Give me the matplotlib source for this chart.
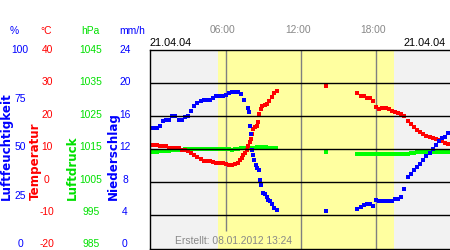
import numpy as np
import matplotlib
matplotlib.use("Agg")
import matplotlib.pyplot as plt

plt.rcParams['font.family'] = ['Liberation Sans', 'DejaVu Sans']

# ---------------- data (hours of day; native units) ----------------
# night / morning segment
t_pres_a = [0.00, 0.25, 0.50, 0.75, 1.00, 1.25, 1.50, 1.75, 2.00, 2.25, 2.50, 2.75,
            3.00, 3.25, 3.50, 3.75, 4.00, 4.25, 4.50, 4.75, 5.00, 5.25, 5.50, 5.75,
            6.00, 6.25, 6.50, 6.75, 7.00, 7.25, 7.50, 7.75, 8.00, 8.25, 8.50, 8.75,
            9.00, 9.25, 9.50, 9.75, 10.00]
pres_a = [1014.2, 1014.2, 1014.2, 1014.5, 1014.5, 1014.5, 1014.6, 1014.7, 1014.7, 1014.7, 1014.9, 1015.0,
          1015.0, 1015.0, 1015.0, 1015.0, 1015.0, 1015.0, 1015.0, 1015.0, 1015.0, 1015.0, 1015.0, 1015.0,
          1015.0, 1015.0, 1014.9, 1015.2, 1015.2, 1015.3, 1015.4, 1015.4, 1015.4, 1015.4, 1015.6, 1015.7,
          1015.7, 1015.7, 1015.4, 1015.4, 1015.4]

t_hum_a = [0.00, 0.25, 0.50, 0.75, 1.00, 1.25, 1.50, 1.75, 2.00, 2.25, 2.50, 2.75,
           3.00, 3.25, 3.50, 3.75, 4.00, 4.25, 4.50, 4.75, 5.00, 5.25, 5.50, 5.75,
           6.00, 6.25, 6.50, 6.75, 7.00, 7.25, 7.50, 7.75, 7.86, 7.96, 8.02, 8.10,
           8.18, 8.28, 8.41, 8.52, 8.68, 8.76, 8.84, 8.95, 9.13, 9.27, 9.39, 9.53,
           9.67, 9.87, 10.06]
hum_a = [60.6, 60.6, 60.6, 61.6, 64.0, 64.5, 64.5, 66.7, 66.7, 64.6, 64.6, 66.3,
         67.0, 69.5, 72.0, 73.4, 74.4, 74.7, 74.7, 74.7, 75.6, 76.9, 76.9, 76.9,
         77.5, 78.1, 78.6, 78.6, 78.6, 77.6, 74.8, 70.8, 68.7, 61.6, 57.6, 49.5,
         47.0, 44.4, 42.3, 40.6, 39.4, 34.3, 32.2, 28.1, 27.6, 25.9, 24.6, 23.9,
         22.6, 20.4, 19.2]

t_temp_a = [0.00, 0.25, 0.50, 0.75, 1.00, 1.25, 1.50, 1.75, 2.00, 2.25, 2.50, 2.75,
            3.00, 3.25, 3.50, 3.75, 4.00, 4.25, 4.50, 4.75, 5.00, 5.25, 5.50, 5.75,
            6.00, 6.25, 6.50, 6.75, 7.00, 7.14, 7.27, 7.40, 7.54, 7.67, 7.80, 7.94,
            8.02, 8.07, 8.20, 8.33, 8.47, 8.55, 8.68, 8.79, 8.92, 9.13, 9.27, 9.45,
            9.67, 9.87, 10.11]
temp_a = [11.4, 11.4, 11.4, 11.1, 11.0, 11.0, 10.5, 10.4, 10.4, 10.4, 9.9, 9.7,
          9.6, 8.8, 8.4, 7.6, 7.1, 6.5, 6.5, 6.3, 6.2, 5.8, 5.7, 5.7,
          5.5, 5.2, 5.2, 5.6, 5.8, 6.7, 7.5, 8.2, 8.9, 9.7, 10.9, 12.2,
          13.2, 14.5, 16.0, 16.6, 17.0, 18.3, 20.8, 22.3, 23.0, 23.3, 23.8, 24.6,
          25.7, 26.9, 27.6]

# isolated reading around 14:00
t_b = [14.0]
hum_b = [19.0]
temp_b = [29.0]
pres_b = [1014.3]

# evening segment
t_c = [16.50, 16.75, 17.00, 17.25, 17.50, 17.75, 18.00, 18.25, 18.50, 18.75,
       19.00, 19.25, 19.50, 19.75, 20.00, 20.25, 20.50, 20.75, 21.00, 21.25,
       21.50, 21.75, 22.00, 22.25, 22.50, 22.75, 23.00, 23.25, 23.50, 23.75]
hum_c = [20.0, 21.0, 21.7, 22.6, 22.6, 21.4, 24.5, 24.0, 23.9, 23.9,
         23.9, 24.0, 25.1, 25.1, 25.8, 30.0, 35.8, 37.6, 39.3, 41.0,
         42.8, 44.4, 46.4, 48.1, 49.9, 52.2, 54.0, 55.5, 56.4, 58.4]
temp_c = [26.9, 26.2, 26.0, 25.5, 25.5, 24.5, 22.8, 22.3, 22.4, 22.6,
          22.2, 21.7, 21.3, 21.1, 20.8, 20.0, 18.5, 17.6, 16.7, 15.9,
          15.1, 14.6, 14.1, 13.7, 13.4, 13.2, 12.8, 12.4, 12.0, 11.7]
pres_c = [1013.7, 1013.5, 1013.5, 1013.5, 1013.5, 1013.5, 1013.5, 1013.5, 1013.5, 1013.5,
          1013.5, 1013.5, 1013.5, 1013.5, 1013.5, 1013.5, 1013.6, 1013.9, 1013.9, 1014.1,
          1014.2, 1014.2, 1014.2, 1014.2, 1014.2, 1014.2, 1014.2, 1014.2, 1014.2, 1014.2]

daylight = [5.36, 19.41]
time_ticks = [6, 12, 18]
time_labels = ["06:00", "12:00", "18:00"]
hum_ticks = [100, 75, 50, 25, 0]
temp_ticks = [40, 30, 20, 10, 0, -10, -20]
pres_ticks = [1045, 1035, 1025, 1015, 1005, 995, 985]
prec_ticks = [24, 20, 16, 12, 8, 4, 0]
date_left = "21.04.04"
date_right = "21.04.04"
created = "Erstellt: 08.01.2012 13:24"

# -------------- conversions onto the temperature scale ---------------
def hum2t(h):
    return np.asarray(h) * 0.6 - 20.0

def pres2t(p):
    return np.asarray(p) - 1005.0

W, H = 450, 250
fig = plt.figure(figsize=(W / 100, H / 100), dpi=100)
ax = fig.add_axes([150.4 / W, 1 - 248.5 / H, 301.1 / W, 198.5 / H])
ax.set_xlim(0, 24)
ax.set_ylim(-20, 40)
ax.set_xticks([])
ax.set_yticks([])
ax.set_facecolor('#f2f2f2')
ax.axvspan(daylight[0], daylight[1], color='#ffffa0', zorder=0, lw=0)
for s in ax.spines.values():
    s.set_color('black')
    s.set_linewidth(1.0)

# vertical time lines
for tt in time_ticks:
    ymin = -14.6 if tt == 6 else -20
    ax.vlines(tt, ymin, 40, color='#808080', lw=1.0, zorder=1)

ms = 2.6
kw = dict(ls='none', marker='s', ms=ms, mew=0, zorder=2)
ax.plot(t_pres_a, pres2t(pres_a), color='#00ff00', **kw)
ax.plot(t_temp_a, temp_a, color='#ff0000', **kw)
ax.plot(t_hum_a, hum2t(hum_a), color='#0000ff', **kw)
for tt, hh, te, pp in [(t_b, hum_b, temp_b, pres_b), (t_c, hum_c, temp_c, pres_c)]:
    ax.plot(tt, pres2t(pp), color='#00ff00', **kw)
    ax.plot(tt, te, color='#ff0000', **kw)
    ax.plot(tt, hum2t(hh), color='#0000ff', **kw)

# horizontal grid lines on top
for v in [-10, 0, 10, 20, 30]:
    ax.axhline(v, color='black', lw=1.0, zorder=3)

# ---------------- text ----------------
def fx(x):
    return x / W

def fy(y):
    return 1 - y / H

def yl(v, vmin, vmax):
    # pixel row of a tick label
    return 50 + (vmax - v) / (vmax - vmin) * 194.3

blue = '#0000ff'
red = '#ff0000'
green = '#00e000'
fs = 7.4

for v in hum_ticks:
    fig.text(fx(20), fy(yl(v, 0, 100)), str(v), color=blue, fontsize=fs, ha='center', va='center')
for v in temp_ticks:
    fig.text(fx(47), fy(yl(v, -20, 40)), str(v), color=red, fontsize=fs, ha='center', va='center')
for v in pres_ticks:
    fig.text(fx(91), fy(yl(v, 985, 1045)), str(v), color=green, fontsize=fs, ha='center', va='center')
for v in prec_ticks:
    fig.text(fx(125), fy(yl(v, 0, 24)), str(v), color=blue, fontsize=fs, ha='center', va='center')

fig.text(fx(14), fy(31), '%', color=blue, fontsize=fs, ha='center', va='center')
fig.text(fx(46), fy(31), '°C', color=red, fontsize=fs, ha='center', va='center')
fig.text(fx(90), fy(31), 'hPa', color=green, fontsize=fs, ha='center', va='center')
fig.text(fx(132), fy(31), 'mm/h', color=blue, fontsize=fs, ha='center', va='center')

rot_kw = dict(rotation=90, fontsize=8.6, fontweight='bold', ha='center', va='bottom',
              family=['DejaVu Sans'])
fig.text(fx(6), fy(200), 'Luftfeuchtigkeit', color=blue, **rot_kw)
fig.text(fx(35), fy(200), 'Temperatur', color=red, **rot_kw)
fig.text(fx(72), fy(200), 'Luftdruck', color=green, **rot_kw)
fig.text(fx(113), fy(200), 'Niederschlag', color=blue, **rot_kw)

for tt, lab in zip(time_ticks, time_labels):
    xp = 150.4 + tt * 301.1 / 24 - 3
    fig.text(fx(xp), fy(30), lab, color='#888888', fontsize=fs, ha='center', va='center')

fig.text(fx(150), fy(43), date_left, color='black', fontsize=7.8, ha='left', va='center')
fig.text(fx(446), fy(43), date_right, color='black', fontsize=7.8, ha='right', va='center')
fig.text(fx(175), fy(241), created, color='#888888', fontsize=7.4, ha='left', va='center', zorder=5)

fig.savefig('out.png', dpi=100)
